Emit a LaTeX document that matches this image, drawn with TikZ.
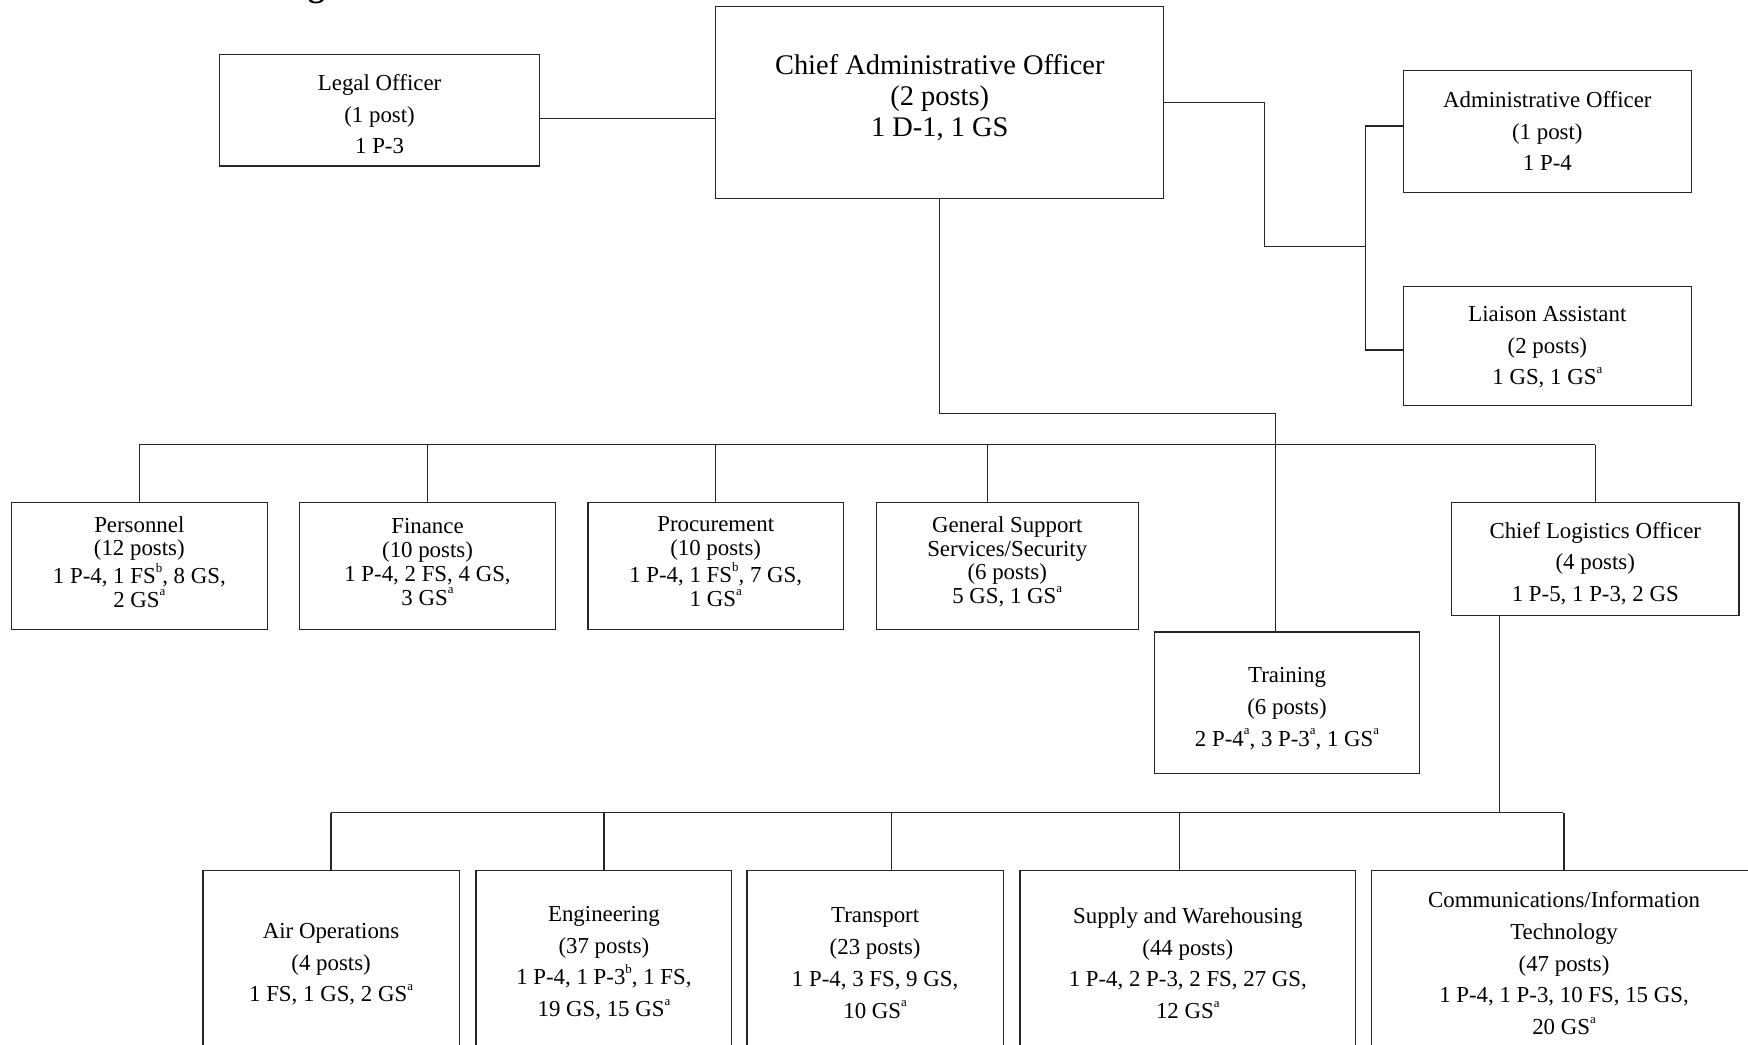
\documentclass[tikz,border=0pt]{standalone}
\usepackage{fontspec}
\setmainfont{Liberation Serif}
\newcommand{\supA}{\raisebox{0.5em}{\fontsize{5.8}{5.8}\selectfont a}}
\newcommand{\supB}{\raisebox{0.5em}{\fontsize{5.8}{5.8}\selectfont b}}
\begin{document}
\begin{tikzpicture}[x=0.5pt,y=-0.5pt,
  boxshape/.style={draw=black!85, line width=0.55pt, inner sep=0pt, fill=white},
  link/.style={draw=black!85, line width=0.55pt},
  txtwide/.style={align=center, inner sep=0pt, font=\fontsize{10.25}{14.25}\selectfont},
  txttight/.style={align=center, inner sep=0pt, font=\fontsize{10.25}{10.7}\selectfont},
  txtbig/.style={align=center, inner sep=0pt, font=\fontsize{12.75}{13.9}\selectfont}]
\useasboundingbox (0,0) rectangle (1568,937);
\fill[white] (0,0) rectangle (1568,937);
\clip (0,0) rectangle (1568,937);

% partial title glyph at top
\node[anchor=base, inner sep=0pt, font=\fontsize{15}{15}\selectfont\bfseries] (ttl) at (284,-3) {g};

% ---------- boxes ----------
\node[boxshape, minimum width=143.5pt, minimum height=50pt] (legal) at (340.5,99) {};
\node[txtwide] (legalT) at (340.5,102.5) {Legal Officer\\(1 post)\\1 P-3};

\node[boxshape, minimum width=201pt, minimum height=86pt] (cao) at (843,92) {};
\node[txtbig] (caoT) at (843,87.5) {Chief Administrative Officer\\(2 posts)\\1 D-1, 1 GS};

\node[boxshape, minimum width=129pt, minimum height=55pt] (admin) at (1388,118) {};
\node[txtwide] (adminT) at (1388,117.5) {Administrative Officer\\(1 post)\\1 P-4};

\node[boxshape, minimum width=129pt, minimum height=53.5pt] (liaison) at (1388,310.5) {};
\node[txtwide] (liaisonT) at (1388,311.5) {Liaison Assistant\\(2 posts)\\1 GS, 1 GS\supA};

\node[boxshape, minimum width=115pt, minimum height=57pt] (pers) at (125,508) {};
\node[txttight] (persT) at (125,504) {Personnel\\(12 posts)\\1 P-4, 1 FS\supB, 8 GS,\\2 GS\supA};

\node[boxshape, minimum width=115pt, minimum height=57pt] (fin) at (383.5,508) {};
\node[txttight] (finT) at (383.5,504) {Finance\\(10 posts)\\1 P-4, 2 FS, 4 GS,\\3 GS\supA};

\node[boxshape, minimum width=114.5pt, minimum height=57pt] (proc) at (642,508) {};
\node[txttight] (procT) at (642,504) {Procurement\\(10 posts)\\1 P-4, 1 FS\supB, 7 GS,\\1 GS\supA};

\node[boxshape, minimum width=117.5pt, minimum height=57pt] (gss) at (903.5,508) {};
\node[txttight] (gssT) at (903.5,504) {General Support\\Services/Security\\(6 posts)\\5 GS, 1 GS\supA};

\node[boxshape, minimum width=129pt, minimum height=50.5pt] (clo) at (1431,501.5) {};
\node[txtwide] (cloT) at (1431,505.5) {Chief Logistics Officer\\(4 posts)\\1 P-5, 1 P-3, 2 GS};

\node[boxshape, minimum width=119pt, minimum height=63.5pt] (train) at (1154.5,630.5) {};
\node[txtwide] (trainT) at (1154.5,635.5) {Training\\(6 posts)\\2 P-4\supA, 3 P-3\supA, 1 GS\supA};

\node[boxshape, minimum width=115pt, minimum height=82pt] (air) at (297,863) {};
\node[txtwide] (airT) at (297,865) {Air Operations\\(4 posts)\\1 FS, 1 GS, 2 GS\supA};

\node[boxshape, minimum width=114.75pt, minimum height=82pt] (eng) at (541.75,863) {};
\node[txtwide] (engT) at (541.75,864) {Engineering\\(37 posts)\\1 P-4, 1 P-3\supB, 1 FS,\\19 GS, 15 GS\supA};

\node[boxshape, minimum width=115pt, minimum height=82pt] (trans) at (785,863) {};
\node[txtwide] (transT) at (785,864) {Transport\\(23 posts)\\1 P-4, 3 FS, 9 GS,\\10 GS\supA};

\node[boxshape, minimum width=150.5pt, minimum height=82pt] (supply) at (1065.5,863) {};
\node[txtwide] (supplyT) at (1065.5,864) {Supply and Warehousing\\(44 posts)\\1 P-4, 2 P-3, 2 FS, 27 GS,\\12 GS\supA};

\node[boxshape, minimum width=173pt, minimum height=82pt] (comms) at (1403,863) {};
\node[txtwide] (commsT) at (1403,864) {Communications/Information\\Technology\\(47 posts)\\1 P-4, 1 P-3, 10 FS, 15 GS,\\20 GS\supA};

% ---------- connectors ----------
\coordinate (jL) at (560,106);
\draw[link] (legal.east |- jL) -- (cao.west |- jL);

\coordinate (rk) at (1134,221);
\coordinate (rj) at (1225,221);
\coordinate (ra) at (1225,113);
\coordinate (rl) at (1225,314);
\draw[link] (cao.east) -| (rk) -- (rj);
\draw[link] (admin.west |- ra) -- (ra) -- (rl) -- (liaison.west |- rl);

\coordinate (tk) at (1144,371);
\coordinate (busL) at (125,399);
\coordinate (busR) at (1431,399);
\draw[link] (cao.south) |- (tk) -- (tk |- train.north);
\draw[link] (busL) -- (busR);
\draw[link] (pers.north) -- (pers.north |- busL);
\draw[link] (fin.north) -- (fin.north |- busL);
\draw[link] (proc.north) -- (proc.north |- busL);
\coordinate (dg) at (886,399);
\draw[link] (dg) -- (dg |- gss.north);
\draw[link] (clo.north) -- (clo.north |- busR);

\coordinate (lk) at (1345,729);
\coordinate (bus2L) at (297,729);
\coordinate (bus2R) at (1402,729);
\draw[link] (lk |- clo.south) -- (lk);
\draw[link] (bus2L) -- (bus2R);
\draw[link] (air.north) -- (air.north |- bus2L);
\draw[link] (eng.north) -- (eng.north |- bus2L);
\coordinate (dt) at (800,729);
\draw[link] (dt) -- (dt |- trans.north);
\coordinate (ds) at (1058,729);
\draw[link] (ds) -- (ds |- supply.north);
\draw[link] (comms.north) -- (comms.north |- bus2R);
\end{tikzpicture}
\end{document}
